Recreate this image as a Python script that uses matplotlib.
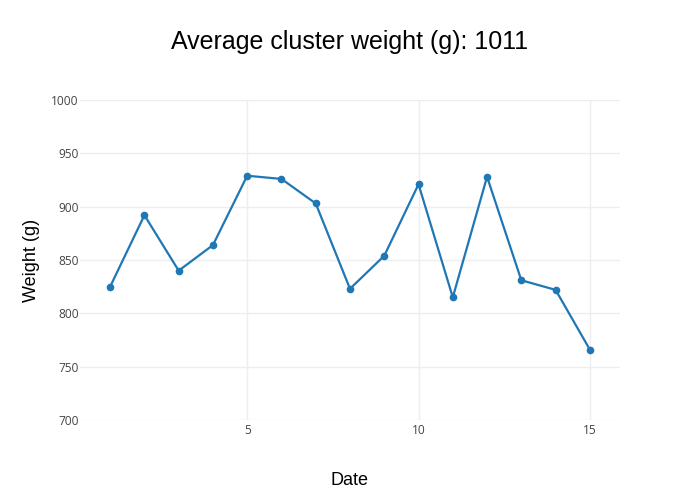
import matplotlib.pyplot as plt

# values
dates = list(range(1, 16))
weights = [825, 892, 840, 864, 929, 926, 903, 823, 854, 921, 815, 928, 831, 822, 766]
y_ticks = [700, 750, 800, 850, 900, 950, 1000]
x_ticks = [5, 10, 15]
title = "Average cluster weight (g): 1011"

fig = plt.figure(figsize=(7, 5), dpi=100)
ax = fig.add_axes([80 / 700, 80 / 500, 540 / 700, 320 / 500])

ax.plot(dates, weights, color='#1f77b4', linewidth=1.6, marker='o',
        markersize=4.5, zorder=3)

ax.set_xlim(0.12, 15.88)
ax.set_ylim(700, 1000)
ax.set_xticks(x_ticks)
ax.set_yticks(y_ticks)
ax.grid(color='#eeeeee', linewidth=1)
for s in ax.spines.values():
    s.set_visible(False)
ax.tick_params(length=0, labelsize=8.6, labelcolor='#444444')
ax.tick_params(axis='y', pad=1)
ax.tick_params(axis='x', pad=3)
for lab in ax.get_xticklabels() + ax.get_yticklabels():
    lab.set_family('Open Sans')

ax.set_xlabel("Date", fontsize=13, family='Liberation Sans', labelpad=25)
ax.set_ylabel("Weight (g)", fontsize=13, family='Liberation Sans', labelpad=8)
fig.text(0.5, 1 - 42 / 500, title, ha='center', va='center', fontsize=18,
         family='Liberation Sans')

fig.savefig('out.png', dpi=100)
